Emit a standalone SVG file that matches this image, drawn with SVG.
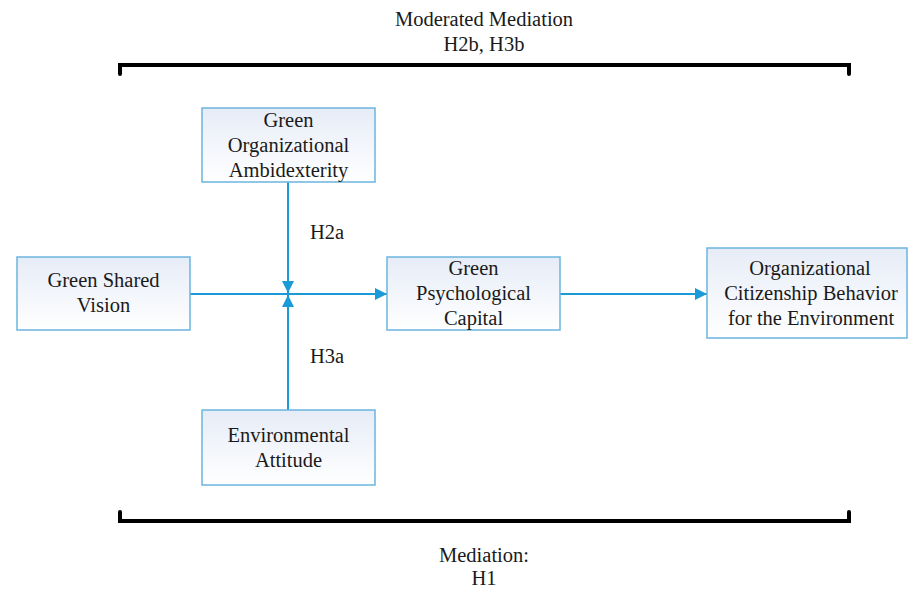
<svg xmlns="http://www.w3.org/2000/svg" width="908" height="589" viewBox="0 0 908 589">
<defs>
<linearGradient id="g" x1="0" y1="0" x2="0" y2="1">
<stop offset="0" stop-color="#e6ecf7"/>
<stop offset="1" stop-color="#ffffff"/>
</linearGradient>
<marker id="ah" viewBox="0 0 10 10" refX="10" refY="5" markerWidth="12" markerHeight="12" markerUnits="userSpaceOnUse" orient="auto">
<path d="M0,0 L10,5 L0,10 Z" fill="#1a9ad6"/>
</marker>
</defs>
<style>
.box{fill:url(#g);stroke:#6cb4de;stroke-width:1.5}
.c{stroke:#1a9ad6;stroke-width:2;fill:none}
.br{stroke:#000;stroke-width:4;fill:none;stroke-linecap:round}
.t{font-family:'Liberation Serif','Times New Roman',serif;font-size:20.5px;fill:#1a1a1a;text-anchor:middle}
</style>
<rect width="908" height="589" fill="#fff"/>
<text class="t" x="484" y="26">Moderated Mediation</text>
<text class="t" x="484" y="51">H2b, H3b</text>
<text class="t" x="484" y="562">Mediation:</text>
<text class="t" x="484" y="585">H1</text>
<path class="br" d="M120,74 V65 H849 V74"/>
<path class="br" d="M120,512 V521 H849 V512"/>
<g id="connectors">
<line class="c" x1="190" y1="294" x2="387" y2="294" marker-end="url(#ah)"/>
<line class="c" x1="288" y1="182" x2="288" y2="293" marker-end="url(#ah)"/>
<line class="c" x1="288" y1="410" x2="288" y2="295" marker-end="url(#ah)"/>
<line class="c" x1="560" y1="294" x2="707" y2="294" marker-end="url(#ah)"/>
<text class="t" x="327" y="239">H2a</text>
<text class="t" x="327" y="363">H3a</text>
</g>
<g id="gsv">
<rect class="box" x="17" y="257" width="173" height="73"/>
<text class="t" x="103.5" y="287">Green Shared</text>
<text class="t" x="103.5" y="312">Vision</text>
</g>
<g id="goa">
<rect class="box" x="202" y="108" width="173" height="74"/>
<text class="t" x="288.5" y="127">Green</text>
<text class="t" x="288.5" y="152">Organizational</text>
<text class="t" x="288.5" y="177">Ambidexterity</text>
</g>
<g id="ea">
<rect class="box" x="202" y="410" width="173" height="75"/>
<text class="t" x="288.5" y="442">Environmental</text>
<text class="t" x="288.5" y="467">Attitude</text>
</g>
<g id="gpc">
<rect class="box" x="387" y="257" width="173" height="73"/>
<text class="t" x="473.5" y="275">Green</text>
<text class="t" x="473.5" y="300">Psychological</text>
<text class="t" x="473.5" y="325">Capital</text>
</g>
<g id="ocbe">
<rect class="box" x="707" y="248" width="200" height="90"/>
<text class="t" x="810" y="275">Organizational</text>
<text class="t" x="811" y="300">Citizenship Behavior</text>
<text class="t" x="811" y="325">for the Environment</text>
</g>
</svg>
